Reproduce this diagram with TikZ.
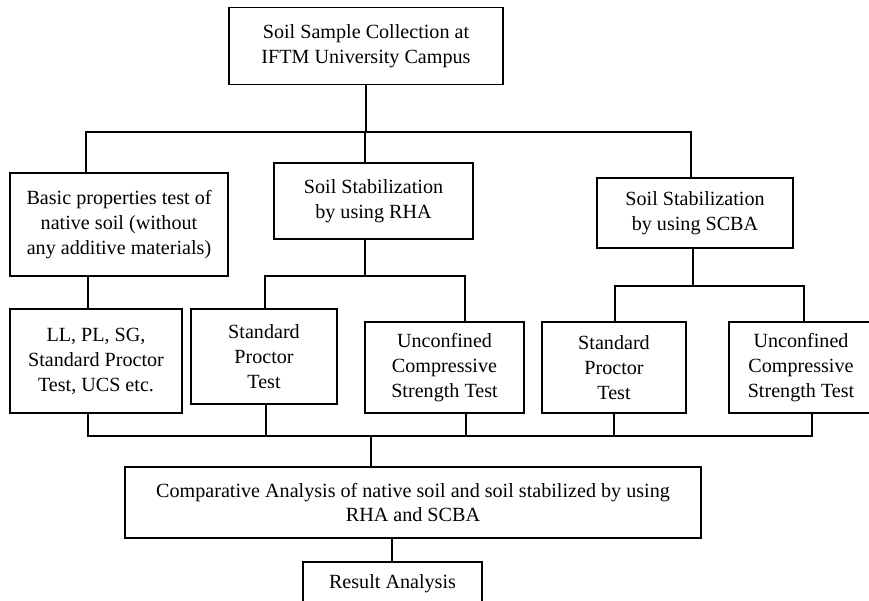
\documentclass[tikz,border=0pt]{standalone}
\usepackage{fontspec}
\setmainfont{Liberation Serif}
\begin{document}
\begin{tikzpicture}[x=1bp,y=-1bp,
  box/.style={draw=black,line width=1.8bp,align=center,inner sep=0pt,
    font=\fontsize{20.2}{25}\selectfont},
  conn/.style={draw=black,line width=2.8bp},
  thin/.style={draw=black,line width=2.1bp}]
\useasboundingbox[fill=white] (0,0) rectangle (869,601);
\begin{scope}
\clip (0,0) rectangle (869,601);
% nodes
\node[box,minimum width=274bp,minimum height=77bp] (top) at (366,46) {Soil Sample Collection at\\IFTM University Campus};
\node[box,minimum width=218bp,minimum height=103bp] (basic) at (119,224.5) {Basic properties test of\\native soil (without\\any additive materials)};
\node[box,minimum width=199bp,minimum height=76bp] (rha) at (373.5,201) {Soil Stabilization\\by using RHA};
\node[box,minimum width=196bp,minimum height=70bp] (scba) at (695,213) {Soil Stabilization\\by using SCBA};
\node[box,minimum width=172bp,minimum height=104bp] (ll) at (96,361) {LL, PL, SG,\\Standard Proctor\\Test, UCS etc.};
\node[box,minimum width=146bp,minimum height=95bp] (spa) at (264,356.5) {Standard\\Proctor\\Test};
\node[box,minimum width=159bp,minimum height=91bp] (ucsa) at (444.5,367.5) {Unconfined\\Compressive\\Strength Test};
\node[box,minimum width=144bp,minimum height=91bp] (spb) at (614,367.5) {Standard\\Proctor\\Test};
\node[box,minimum width=144bp,minimum height=91bp] (ucsb) at (801,367.5) {Unconfined\\Compressive\\Strength Test};
\node[box,minimum width=576bp,minimum height=71bp] (comp) at (413,502.5) {Comparative Analysis of native soil and soil stabilized by using\\RHA and SCBA};
\node[box,minimum width=179bp,minimum height=44bp] (res) at (392.5,584) {Result Analysis};
% junction coordinates
\coordinate (L1) at (86,132);
\coordinate (M1) at (365,132);
\coordinate (R1) at (691,132);
\coordinate (ra) at (365,276);
\coordinate (raL) at (265,276);
\coordinate (raR) at (465,276);
\coordinate (ba) at (88,276);
\coordinate (sb) at (693,286);
\coordinate (sbL) at (615,286);
\coordinate (sbR) at (804,286);
\coordinate (q1) at (88,436);
\coordinate (q2) at (266,436);
\coordinate (q3) at (466,436);
\coordinate (q4) at (614,436);
\coordinate (q5) at (812,436);
\coordinate (qc) at (371,436);
\coordinate (rc) at (392,538);
% connectors
\draw[conn] (top.south) -- (top.south |- L1);
\draw[conn] (L1 |- basic.north) -- (L1) -- (R1) -- (R1 |- scba.north);
\draw[conn] (M1) -- (M1 |- rha.north);
\draw[thin] (ra |- rha.south) -- (ra);
\draw[thin] (raL |- spa.north) -- (raL) -- (raR) -- (raR |- ucsa.north);
\draw[conn] (ba |- basic.south) -- (ba |- ll.north);
\draw[thin] (sb |- scba.south) -- (sb);
\draw[conn] (sbL |- spb.north) -- (sbL) -- (sbR) -- (sbR |- ucsb.north);
\draw[conn] (q1 |- ll.south) -- (q1) -- (q5) -- (q5 |- ucsb.south);
\draw[conn] (q2 |- spa.south) -- (q2);
\draw[conn] (q3 |- ucsa.south) -- (q3);
\draw[conn] (q4 |- spb.south) -- (q4);
\draw[conn] (qc) -- (qc |- comp.north);
\draw[conn] (rc |- comp.south) -- (rc |- res.north);
\end{scope}
\end{tikzpicture}
\end{document}
